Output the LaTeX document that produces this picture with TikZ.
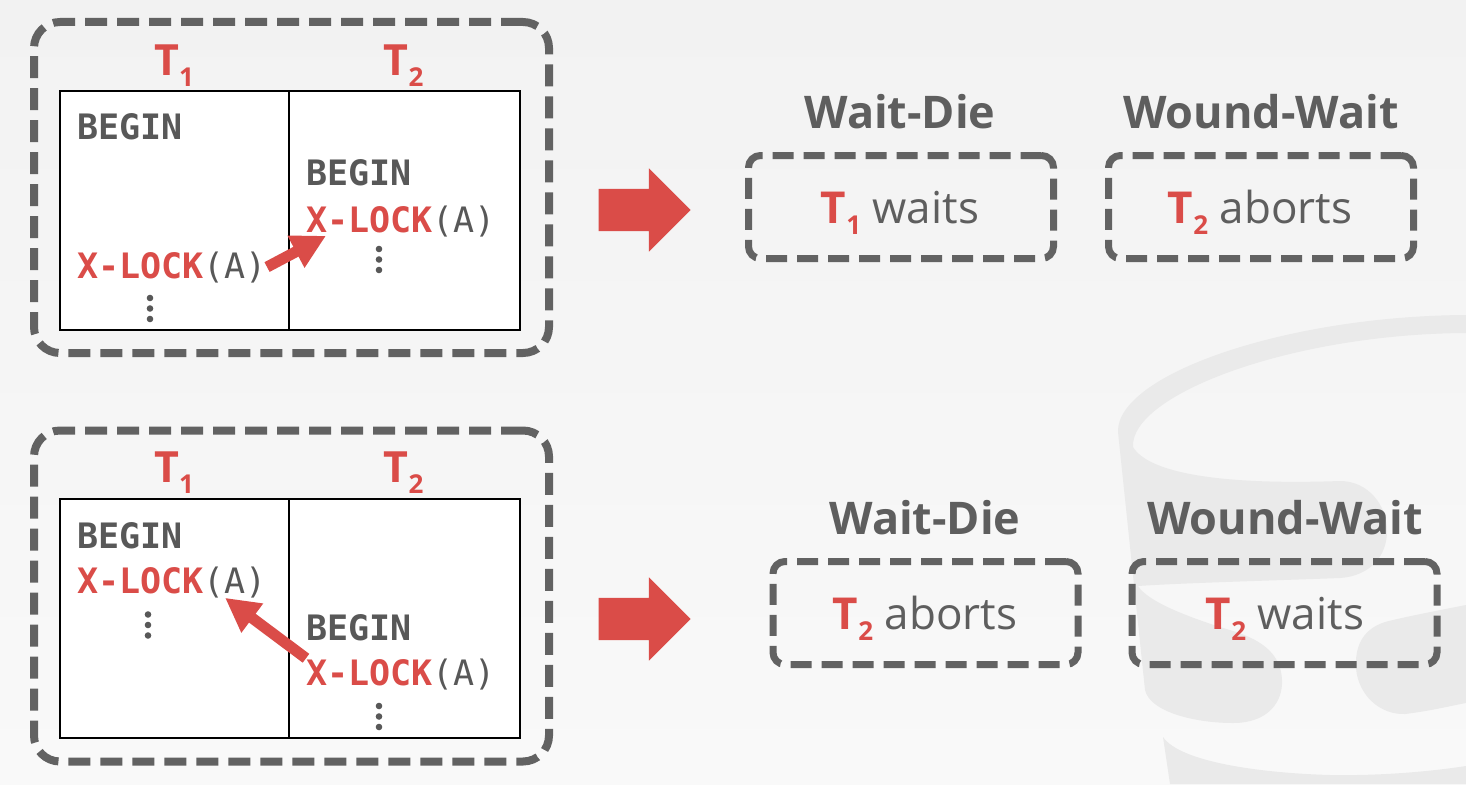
\documentclass[tikz,border=0pt]{standalone}
\usepackage{fontspec}
\setsansfont{Open Sans}
\newfontfamily\codefont{DejaVu Sans Mono}
\usetikzlibrary{arrows.meta, calc, shapes.arrows}
\definecolor{dbred}{RGB}{218,76,72}
\definecolor{dbgray}{RGB}{98,98,98}
\definecolor{inkgray}{RGB}{88,88,88}
\definecolor{headgray}{RGB}{94,94,94}
\definecolor{wmgray}{RGB}{234,234,234}
\definecolor{bgtop}{RGB}{242,242,242}
\definecolor{bgbot}{RGB}{249,249,249}
\newcommand\tsub[1]{T\raisebox{-11pt}{\fontsize{26}{26}\selectfont #1}}
\newcommand\xlock{{\bfseries\color{dbred}X-LOCK}(A)}

\begin{document}
\begin{tikzpicture}[x=1pt, y=-1pt,
    panel/.style={draw=dbgray, line width=8, dash pattern=on 22 off 10, rounded corners=26, minimum width=515, minimum height=331, inner sep=0},
    txn/.style={draw=black, line width=2, fill=white, minimum height=239, inner sep=0},
    code/.style={anchor=base west, inner sep=0, text=inkgray, font=\codefont\fontsize{35}{35}\selectfont},
    ellip/.style={minimum width=8, minimum height=30, inner sep=0, path picture={\fill[inkgray] (path picture bounding box.center) circle (3.3pt) ++(0,-10.5) circle (3.3pt) ++(0,21) circle (3.3pt);}},
    tlabel/.style={anchor=base, inner sep=0, text=dbred, font=\sffamily\bfseries\fontsize{43}{43}\selectfont},
    head/.style={anchor=base, inner sep=0, text=headgray, font=\sffamily\bfseries\fontsize{45}{45}\selectfont},
    res/.style={anchor=base, inner sep=0, text=headgray, font=\sffamily\fontsize{44}{44}\selectfont},
    resbox/.style={draw=dbgray, line width=7, dash pattern=on 21 off 10, rounded corners=12, minimum width=305, minimum height=103, inner sep=0},
    go/.style={single arrow, fill=dbred, minimum height=92, minimum width=83, single arrow head extend=20.5, inner xsep=0, inner ysep=21},
    lockarrow/.style={draw=dbred, line width=11, -{Triangle[length=34pt, width=34pt]}}]
    \useasboundingbox (0,0) rectangle (1466,784);
    \shade[top color=bgtop, bottom color=bgbot] (0,0) rectangle (1466,784);

    %logo in the back
    \fill[wmgray] (1466,315) .. controls (1285,316) and (1116,375) .. (1118,432)
        -- (1145,690) .. controls (1150,712) and (1195,723) .. (1233,723)
        .. controls (1268,723) and (1283,702) .. (1282,680)
        .. controls (1281,656) and (1265,641) .. (1233,631)
        .. controls (1190,618) and (1148,602) .. (1138,586)
        .. controls (1180,583) and (1290,580) .. (1340,578)
        .. controls (1370,576) and (1387,556) .. (1387,531)
        .. controls (1387,505) and (1368,481) .. (1340,481)
        .. controls (1230,485) and (1150,475) .. (1133,447)
        .. controls (1130,395) and (1290,334) .. (1466,333) -- cycle;
    \fill[wmgray] (1466,605) .. controls (1430,612) and (1400,618) .. (1385,622)
        .. controls (1360,630) and (1355,650) .. (1356,668)
        .. controls (1358,695) and (1380,715) .. (1405,714)
        .. controls (1430,711) and (1450,706) .. (1466,703) -- cycle;
    \fill[wmgray] (1163,737) .. controls (1180,762) and (1260,773) .. (1330,775)
        .. controls (1390,776) and (1440,770) .. (1466,766) -- (1466,784) -- (1170,784) -- cycle;

    %first case
    \node at (291.5,187.5) [panel] (p1) {};
    \node at (174.5,210.5) [txn, minimum width=229] (colL1) {};
    \node at (404.5,210.5) [txn, minimum width=231] (colR1) {};
    \node at (174,75) [tlabel] (tL1) {\tsub{1}};
    \node at (403.5,75) [tlabel] (tR1) {\tsub{2}};
    \node at (77,139) [code, font=\codefont\bfseries\fontsize{35}{35}\selectfont] (beginL1) {BEGIN};
    \node at (77,278) [code] (lockL1) {\xlock};
    \node at (150,308.5) [ellip] (dotsL1) {};
    \node at (306,185) [code, font=\codefont\bfseries\fontsize{35}{35}\selectfont] (beginR1) {BEGIN};
    \node at (306,232) [code] (lockR1) {\xlock};
    \node at (379,259.5) [ellip] (dotsR1) {};
    \draw[lockarrow] (lockL1.east) -- ($(lockR1.south west)+(20,-1)$);

    \node at (634,210) [go] (go1) {};
    \node at (900,128) [head] (headWD1) {Wait-Die};
    \node at (901,207) [resbox] (boxWD1) {};
    \node at (900,223) [res] (resWD1) {{\bfseries\color{dbred}\tsub{1}} waits};
    \node at (1261,128) [head] (headWW1) {Wound-Wait};
    \node at (1261,207) [resbox] (boxWW1) {};
    \node at (1260,223) [res] (resWW1) {{\bfseries\color{dbred}\tsub{2}} aborts};

    %second case
    \node at (291.5,596) [panel] (p2) {};
    \node at (174.5,618.5) [txn, minimum width=229] (colL2) {};
    \node at (404.5,618.5) [txn, minimum width=231] (colR2) {};
    \node at (174,482) [tlabel] (tL2) {\tsub{1}};
    \node at (403.5,482) [tlabel] (tR2) {\tsub{2}};
    \node at (77,548) [code, font=\codefont\bfseries\fontsize{35}{35}\selectfont] (beginL2) {BEGIN};
    \node at (77,593) [code] (lockL2) {\xlock};
    \node at (148,625) [ellip] (dotsL2) {};
    \node at (306,640) [code, font=\codefont\bfseries\fontsize{35}{35}\selectfont] (beginR2) {BEGIN};
    \node at (306,685) [code] (lockR2) {\xlock};
    \node at (379,716.5) [ellip] (dotsR2) {};
    \draw[lockarrow] (lockR2.north west) -- ($(lockL2.south east)+(-42,0)$);

    \node at (634,619) [go] (go2) {};
    \node at (925,534) [head] (headWD2) {Wait-Die};
    \node at (925.5,613) [resbox] (boxWD2) {};
    \node at (925,629) [res] (resWD2) {{\bfseries\color{dbred}\tsub{2}} aborts};
    \node at (1285,534) [head] (headWW2) {Wound-Wait};
    \node at (1284.5,613) [resbox] (boxWW2) {};
    \node at (1285,629) [res] (resWW2) {{\bfseries\color{dbred}\tsub{2}} waits};
\end{tikzpicture}
\end{document}
